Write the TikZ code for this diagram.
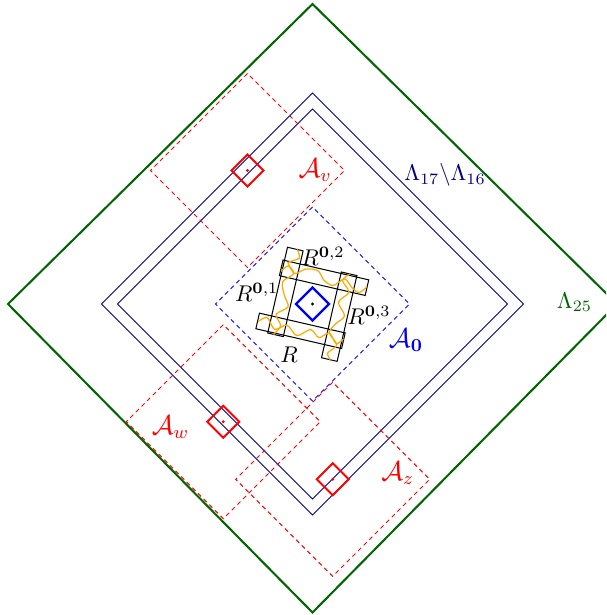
\documentclass[tikz,border=0pt]{standalone}
\usepackage{amsmath,amssymb}
\definecolor{dgreen}{RGB}{0,100,0}
\definecolor{nvy}{RGB}{0,0,128}
\definecolor{orng}{RGB}{255,170,0}
\newcommand\dmd[3]{(#1,#2-#3) -- (#1-#3,#2) -- (#1,#2+#3) -- (#1+#3,#2) -- cycle}
\tikzset{
  greenline/.style={draw=dgreen,line width=0.9pt},
  navyline/.style={draw=nvy,line width=0.45pt},
  reddash/.style={draw=red,line width=0.45pt,dash pattern=on 1.9pt off 1.6pt},
  bluedash/.style={draw=blue,line width=0.45pt,dash pattern=on 1.9pt off 1.6pt},
  redbox/.style={draw=red,line width=0.85pt},
  bluebox/.style={draw=blue,line width=1pt},
  rectbox/.style={draw=black,line width=0.45pt},
  crossing/.style={draw=orng,line width=0.55pt},
  lbl/.style={inner sep=1pt}
}
\begin{document}
\begin{tikzpicture}[x=0.44pt,y=-0.44pt]
\useasboundingbox (0,0) rectangle (606,615);
\clip (0,0) rectangle (606,615);
% big squares
\draw[greenline] (312.5,4) -- (8,304) -- (312.5,612.5) -- (617,304) -- cycle;
\draw[navyline] \dmd{312.5}{304}{211};
\draw[navyline] \dmd{312.5}{304}{195};
% dashed annuli
\draw[bluedash] \dmd{312.5}{304}{97};
\draw[reddash] \dmd{247.5}{170.5}{97};
\draw[reddash] \dmd{223.3}{421.7}{97};
\draw[reddash] \dmd{332.7}{479.3}{97};
% small red boxes
\draw[redbox] \dmd{247.5}{170.5}{16};
\draw[redbox] \dmd{223.3}{421.7}{16};
\draw[redbox] \dmd{332.7}{479.3}{16};
\fill[red] (247.5,170.5) circle (1.6);
\fill[red] (223.3,421.7) circle (1.6);
\fill[red] (332.7,479.3) circle (1.6);
% centre
\draw[bluebox] \dmd{312.5}{304}{16.5};
\fill[black] (312.5,304) circle (1.6);
\begin{scope}[shift={(312.3,304.3)},rotate=-13]
  \draw[rectbox] (-38.5,-36.5) rectangle (49.5,-20.5);
  \draw[rectbox] (-49.5,20.5) rectangle (38.5,36.5);
  \draw[rectbox] (-37,-50) rectangle (-21,38);
  \draw[rectbox] (21,-38) rectangle (37,50);
  \draw[crossing] plot[smooth] coordinates {(-38,-25) (-32,-32) (-24,-26) (-14,-33) (-2,-34) (6,-26) (16,-23) (26,-32) (35,-25) (43,-22) (49,-29)};
  \draw[crossing] plot[smooth] coordinates {(-27,-50) (-23,-42) (-33,-35) (-25,-26) (-34,-15) (-29,-2) (-23,8) (-33,18) (-26,28) (-31,38)};
  \draw[crossing] plot[smooth] coordinates {(-49,29) (-41,23) (-31,33) (-20,26) (-8,34) (4,25) (14,31) (23,24) (32,33) (38,27)};
  \draw[crossing] plot[smooth] coordinates {(30,-38) (24,-30) (33,-20) (25,-8) (34,4) (27,14) (23,24) (33,34) (26,44) (30,50)};
\end{scope}
% labels
\node[lbl,text=nvy] (l17) at (445,175) {$\Lambda_{17}\backslash\Lambda_{16}$};
\node[lbl,text=dgreen] (l25) at (574.5,302.5) {$\Lambda_{25}$};
\node[lbl,text=red] (av) at (315,170) {\large$\mathcal{A}_v$};
\node[lbl,text=red] (aw) at (170.5,427.5) {\large$\mathcal{A}_w$};
\node[lbl,text=red] (az) at (397.7,473) {\large$\mathcal{A}_z$};
\node[lbl,text=blue] (a0) at (406,340) {\large$\mathcal{A}_{\mathbf{0}}$};
\node[lbl] (r01) at (256.7,292.5) {$R^{\mathbf{0},1}$};
\node[lbl] (r02) at (323,256) {$R^{\mathbf{0},2}$};
\node[lbl] (r03) at (369,315) {$R^{\mathbf{0},3}$};
\node[lbl] (r) at (289,355) {$R$};
\end{tikzpicture}
\end{document}
